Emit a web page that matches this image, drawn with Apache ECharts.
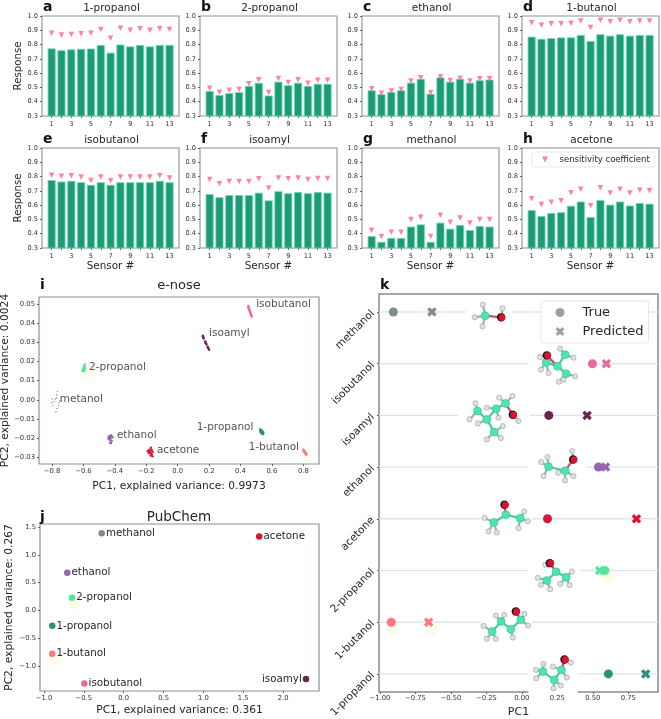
<!DOCTYPE html>
<html><head><meta charset="utf-8">
<script src="https://cdn.jsdelivr.net/npm/echarts@6/dist/echarts.min.js"></script>
<style>html,body{margin:0;padding:0;background:#fff}#c{width:661px;height:719px;filter:blur(0.35px)}</style>
</head><body><div id="c"></div>
<script>
// ---------- data ----------
const sensors = [1,2,3,4,5,6,7,8,9,10,11,12,13];
const sensorTickLabels = [1,3,5,7,9,11,13];
const panelNames = ['1-propanol','2-propanol','ethanol','1-butanol','isobutanol','isoamyl','methanol','acetone'];
const panelLetters = ['a','b','c','d','e','f','g','h'];
const resp_1propanol = [.773,.76,.766,.77,.772,.797,.743,.80,.787,.797,.787,.797,.797];
const sens_1propanol = [.88,.867,.87,.875,.88,.905,.845,.915,.90,.91,.90,.91,.905];
const resp_2propanol = [.475,.447,.46,.467,.51,.532,.443,.54,.515,.532,.51,.525,.525];
const sens_2propanol = [.495,.467,.48,.485,.525,.553,.465,.563,.535,.553,.53,.55,.55];
const resp_ethanol = [.48,.452,.468,.48,.533,.56,.455,.57,.54,.56,.533,.55,.555];
const sens_ethanol = [.49,.46,.475,.485,.545,.567,.462,.575,.548,.565,.545,.56,.56];
const resp_1butanol = [.855,.84,.845,.85,.85,.867,.825,.872,.862,.872,.862,.867,.867];
const sens_1butanol = [.953,.935,.945,.945,.95,.965,.92,.97,.96,.97,.96,.965,.965];
const resp_isobutanol = [.775,.765,.77,.76,.742,.76,.742,.76,.76,.76,.76,.77,.76];
const sens_isobutanol = [.81,.802,.805,.797,.772,.797,.77,.797,.797,.797,.797,.805,.79];
const resp_isoamyl = [.677,.655,.67,.67,.67,.687,.633,.697,.683,.692,.683,.692,.687];
const sens_isoamyl = [.78,.75,.765,.765,.765,.785,.72,.79,.785,.79,.78,.787,.787];
const resp_methanol = [.383,.343,.37,.37,.45,.465,.343,.477,.435,.46,.425,.453,.45];
const sens_methanol = [.425,.38,.41,.41,.5,.515,.38,.53,.48,.51,.475,.5,.5];
const resp_acetone = [.565,.523,.545,.55,.595,.625,.517,.635,.603,.625,.597,.615,.61];
const sens_acetone = [.645,.605,.62,.63,.687,.712,.595,.722,.685,.712,.685,.705,.70];
const responses = [resp_1propanol,resp_2propanol,resp_ethanol,resp_1butanol,resp_isobutanol,resp_isoamyl,resp_methanol,resp_acetone];
const sensitivities = [sens_1propanol,sens_2propanol,sens_ethanol,sens_1butanol,sens_isobutanol,sens_isoamyl,sens_methanol,sens_acetone];

const colors = {'1-propanol':'#2f8f7c','2-propanol':'#4fe89c','ethanol':'#9466ad','1-butanol':'#ff7683','isobutanol':'#e8689f','isoamyl':'#6a2450','methanol':'#7f8c8d','acetone':'#d9143a'};

const enose_isobutanol = [[.45,.049],[.451,.0485],[.452,.048],[.453,.0475],[.455,.0472],[.456,.047],[.458,.0465],[.461,.046],[.463,.0455],[.465,.0448],[.467,.0445],[.469,.044],[.472,.0435]];
const enose_isoamyl = [[.16,.0335],[.161,.033],[.163,.0328],[.163,.0325],[.165,.032],[.175,.0305],[.178,.03],[.18,.0295],[.183,.029],[.19,.0278],[.193,.0272],[.196,.0268],[.2,.0262]];
const enose_2propanol = [[-.605,.015],[-.6,.0155],[-.598,.016],[-.595,.0165],[-.593,.017],[-.596,.0175],[-.592,.018],[-.59,.0185],[-.593,.0165],[-.6,.0165],[-.597,.015],[-.59,.016],[-.603,.016]];
const enose_methanol = [[-.765,.0043],[-.77,.0025],[-.778,.0005],[-.787,-.001],[-.793,-.003],[-.802,-.0015],[-.798,.0005],[-.775,-.0062],[-.767,-.0045],[-.76,-.003],[-.755,-.0015],[-.75,-.0005],[-.77,.001]];
const enose_ethanol = [[-.425,-.0185],[-.43,-.0195],[-.435,-.0205],[-.44,-.0195],[-.43,-.021],[-.425,-.0225],[-.42,-.019],[-.415,-.0195],[-.44,-.0205],[-.43,-.0225],[-.42,-.0215],[-.435,-.019],[-.428,-.02]];
const enose_acetone = [[-.17,-.025],[-.18,-.026],[-.165,-.0262],[-.19,-.0268],[-.175,-.027],[-.16,-.0272],[-.185,-.0278],[-.17,-.028],[-.178,-.0272],[-.165,-.0285],[-.172,-.029],[-.16,-.0295],[-.185,-.0265]];
const enose_1propanol = [[.525,-.0155],[.53,-.016],[.535,-.0158],[.527,-.0165],[.533,-.0168],[.54,-.0165],[.53,-.0172],[.537,-.0175],[.545,-.017],[.54,-.0178],[.545,-.0178],[.535,-.0165],[.542,-.0172]];
const enose_1butanol = [[.80,-.026],[.802,-.0265],[.805,-.027],[.806,-.0268],[.808,-.0272],[.81,-.0275],[.812,-.0278],[.813,-.0275],[.815,-.028],[.817,-.0282],[.818,-.0285],[.82,-.0285],[.804,-.0262]];
const enoseClusters = [['1-propanol',enose_1propanol],['2-propanol',enose_2propanol],['ethanol',enose_ethanol],['1-butanol',enose_1butanol],['isobutanol',enose_isobutanol],['isoamyl',enose_isoamyl],['methanol',enose_methanol],['acetone',enose_acetone]];
const enoseLabels = [['isobutanol',.5,.0497],['isoamyl',.2,.0349],['2-propanol',-.564,.0171],['metanol',-.751,.0004],['ethanol',-.387,-.0183],['acetone',-.132,-.0262],['1-propanol',.121,-.0142],['1-butanol',.452,-.0246]];
const enoseGlow = [[-.58,.0145],[.825,-.0288]];

const pubchemPoints = [['methanol',-.276,1.39,'right'],['acetone',1.70,1.33,'right'],['ethanol',-.708,.68,'right'],['2-propanol',-.649,.23,'right'],['1-propanol',-.896,-.276,'right'],['1-butanol',-.896,-.777,'right'],['isobutanol',-.494,-1.31,'right'],['isoamyl',2.287,-1.23,'left']];
const pubchemGlow = [[-.62,.13],[-.87,-.87]];

const rowNames = ['methanol','isobutanol','isoamyl','ethanol','acetone','2-propanol','1-butanol','1-propanol'];
const truePC1 = [-.906,.498,.19,.54,.181,.585,-.921,.61];
const predictedPC1 = [-.634,.596,.46,.59,.808,.549,-.657,.873];
const rowGlow = [[.6,5.12],[-.905,6.12],[-.64,6.12]];

// 3-D molecule sketches: atoms in sketch units (3 units = 1 px); x counted so PC1=0 is at 575, y relative to "line"
const sketches = [
 {row:0,gap:[408,545],line:97,o:[513,113],c:[[465,108]],h:[[458,75],[517,86],[434,113],[457,140]]},
 {row:1,gap:[595,770],line:252,o:[650,227],c:[[648,248],[682,260],[705,225],[708,282]],h:[[630,232],[632,270],[655,280],[690,207],[730,234],[735,290],[686,306],[700,300]]},
 {row:2,gap:[385,600],line:408,o:[548,406],c:[[526,372],[498,388],[470,420],[442,395],[492,458]],h:[[547,350],[507,355],[470,385],[436,372],[418,420],[443,432],[565,425],[470,480],[512,476],[518,440],[505,415]]},
 {row:3,gap:[595,768],line:563,o:[729,540],c:[[705,574],[655,562]],h:[[726,515],[652,533],[633,548],[640,590],[730,590],[705,603],[684,580]]},
 {row:4,gap:[450,605],line:87,o:[523,45],c:[[527,75],[491,98],[570,85]],h:[[463,84],[475,125],[500,128],[582,65],[593,94],[565,115]]},
 {row:5,gap:[595,750],line:242,o:[659,220],c:[[678,246],[650,272],[708,262]],h:[[645,225],[623,264],[632,285],[660,298],[725,245],[718,286],[690,282]]},
 {row:6,gap:[452,605],line:397,o:[557,365],c:[[572,390],[542,418],[513,395],[486,425]],h:[[583,372],[594,407],[548,443],[522,375],[497,377],[460,408],[470,447],[497,447]]},
 {row:7,gap:[595,742],line:552,o:[703,509],c:[[694,540],[672,570],[638,545]],h:[[722,518],[668,530],[710,563],[670,595],[617,540],[618,565],[640,522],[692,587]]}
];

// ---------- layout ----------
const cols = [42,200,362,522], colW = 137;
const rowsTop = [16,148], rowH = 100;
const font = 'DejaVu Sans', ink = '#262626', spine = '#84949b';
const down = 'path://M0,0 L10,0 L5,10 Z';
const cross = 'path://M2.5,0 L5,2.5 L7.5,0 L10,2.5 L7.5,5 L10,7.5 L7.5,10 L5,7.5 L2.5,10 L0,7.5 L2.5,5 L0,2.5 Z';
const minus = s => String(s).replace('-', '\u2212');

const grid=[], xAxis=[], yAxis=[], series=[], title=[];
function addTitle(text,x,y,size,bold,align){
  title.push({text,left:x,top:y,padding:0,textAlign:align||'center',textVerticalAlign:'middle',
    textStyle:{fontFamily:font,fontSize:size,fontWeight:bold?'bold':'normal',color:bold?'#111':ink}});
}
function axisBase(o){ return Object.assign({axisLine:{show:false,onZero:false},splitLine:{show:false},
  axisTick:{length:2,lineStyle:{color:'#444',width:.8}},
  axisLabel:{fontFamily:font,fontSize:6.6,color:'#333',margin:4},
  nameTextStyle:{fontFamily:font,color:ink}},o); }
function seq(a,b,s){ const r=[]; for(let v=a; v<=b+1e-9; v+=s) r.push(+v.toFixed(4)); return r; }

panelNames.forEach((name,i)=>{
  const col=i%4,row=i<4?0:1;
  grid.push({left:cols[col],top:rowsTop[row],width:colW,height:rowH,show:true,borderColor:spine,borderWidth:1.1,backgroundColor:'#fff',outerBoundsMode:'none'});
  xAxis.push(axisBase({type:'value',gridIndex:i,min:.02,max:13.96,
    axisTick:{length:2,customValues:sensors,lineStyle:{color:'#444',width:.8}},
    axisLabel:{fontFamily:font,fontSize:6.6,color:'#333',margin:5,customValues:sensorTickLabels},
    name:row==1?'Sensor #':'',nameLocation:'middle',nameGap:12.5,nameTextStyle:{fontFamily:font,fontSize:10.4,color:ink}}));
  yAxis.push(axisBase({type:'value',gridIndex:i,min:.3,max:1,interval:.1,
    axisLabel:{fontFamily:font,fontSize:6.6,color:'#333',margin:4,formatter:v=>v.toFixed(1)},
    name:col==0?'Response':'',nameLocation:'middle',nameGap:17,nameTextStyle:{fontFamily:font,fontSize:10.2,color:ink}}));
  series.push({type:'bar',xAxisIndex:i,yAxisIndex:i,barWidth:8,silent:true,
    data:sensors.map((s,j)=>[s,responses[i][j]]),
    itemStyle:{color:'#1d9b77',borderColor:'#62dba9',borderWidth:.8}});
  series.push({type:'scatter',name:'sensitivity coefficient',xAxisIndex:i,yAxisIndex:i,symbol:down,symbolSize:5.5,silent:true,
    data:sensors.map((s,j)=>[s,sensitivities[i][j]]),itemStyle:{color:'#ff6486'}});
  addTitle(name,cols[col]+colW/2+1,rowsTop[row]-8,10.5);
  addTitle(panelLetters[i],cols[col]+1,rowsTop[row]-9,14,true,'left');
});

// panel i
grid.push({left:39,top:297,width:280,height:167,show:true,borderColor:spine,borderWidth:1.2,outerBoundsMode:'none'});
xAxis.push(axisBase({type:'value',gridIndex:8,min:-.883,max:.9,
  axisTick:{length:2,customValues:seq(-.8,.8,.2),lineStyle:{color:'#444',width:.8}},
  axisLabel:{fontFamily:font,fontSize:6.8,color:'#333',margin:4,customValues:seq(-.8,.8,.2),formatter:v=>minus(v.toFixed(1))},
  name:'PC1, explained variance: 0.9973',nameLocation:'middle',nameGap:17,nameTextStyle:{fontFamily:font,fontSize:10.7,color:ink}}));
yAxis.push(axisBase({type:'value',gridIndex:8,min:-.0335,max:.0537,
  axisTick:{length:2,customValues:seq(-.03,.05,.01),lineStyle:{color:'#444',width:.8}},
  axisLabel:{fontFamily:font,fontSize:6.8,color:'#333',margin:4,customValues:seq(-.03,.05,.01),formatter:v=>minus(v.toFixed(2))},
  name:'PC2, explained variance: 0.0024',nameLocation:'middle',nameGap:23.5,nameTextStyle:{fontFamily:font,fontSize:10.7,color:ink}}));
series.push({type:'scatter',xAxisIndex:8,yAxisIndex:8,symbolSize:13,silent:true,data:enoseGlow,itemStyle:{color:'rgba(246,249,214,.6)'},z:1});
enoseClusters.forEach(([n,pts])=>series.push({type:'scatter',xAxisIndex:8,yAxisIndex:8,silent:true,
  symbolSize:n=='methanol'?1.4:2.4,data:pts,itemStyle:{color:colors[n],opacity:1}}));
series.push({type:'scatter',xAxisIndex:8,yAxisIndex:8,symbolSize:0,silent:true,
  data:enoseLabels.map(l=>({name:l[0],value:[l[1],l[2]]})),
  label:{show:true,position:'right',distance:0,formatter:'{b}',fontFamily:font,fontSize:10.5,color:ink},labelLayout:{hideOverlap:false}});
addTitle('e-nose',179,286,13);
addTitle('i',40,285,14,true,'left');

// panel j
grid.push({left:40,top:524,width:279,height:167,show:true,borderColor:spine,borderWidth:1.2,outerBoundsMode:'none'});
xAxis.push(axisBase({type:'value',gridIndex:9,min:-1.05,max:2.45,
  axisTick:{length:2,customValues:seq(-1,2,.5),lineStyle:{color:'#444',width:.8}},
  axisLabel:{fontFamily:font,fontSize:6.8,color:'#333',margin:4,customValues:seq(-1,2,.5),formatter:v=>minus(v.toFixed(1))},
  name:'PC1, explained variance: 0.361',nameLocation:'middle',nameGap:14,nameTextStyle:{fontFamily:font,fontSize:10.7,color:ink}}));
yAxis.push(axisBase({type:'value',gridIndex:9,min:-1.447,max:1.554,
  axisTick:{length:2,customValues:seq(-1,1.5,.5),lineStyle:{color:'#444',width:.8}},
  axisLabel:{fontFamily:font,fontSize:6.8,color:'#333',margin:4,customValues:seq(-1,1.5,.5),formatter:v=>minus(v.toFixed(1))},
  name:'PC2, explained variance: 0.267',nameLocation:'middle',nameGap:25,nameTextStyle:{fontFamily:font,fontSize:10.7,color:ink}}));
series.push({type:'scatter',xAxisIndex:9,yAxisIndex:9,symbolSize:13,silent:true,data:pubchemGlow,itemStyle:{color:'rgba(246,249,214,.6)'},z:1});
series.push({type:'scatter',xAxisIndex:9,yAxisIndex:9,symbolSize:6.5,silent:true,
  data:pubchemPoints.map(p=>({name:p[0],value:[p[1],p[2]],itemStyle:{color:colors[p[0]],opacity:1},label:{position:p[3]}})),
  label:{show:true,distance:1,formatter:'{b}',fontFamily:font,fontSize:10.3,color:ink},labelLayout:{hideOverlap:false}});
addTitle('PubChem',179,517,13.5);
addTitle('j',40,517,14,true,'left');

// panel k
const kTicks=seq(-1,.75,.25);
grid.push({left:379,top:294,width:279,height:398,show:true,borderColor:'#7f8f93',borderWidth:1.5,outerBoundsMode:'none'});
xAxis.push(axisBase({type:'value',gridIndex:10,min:-1.007,max:.96,
  axisTick:{length:2,customValues:kTicks,lineStyle:{color:'#444',width:.8}},
  axisLabel:{fontFamily:font,fontSize:6.8,color:'#333',margin:3,customValues:kTicks,formatter:v=>minus(v.toFixed(2))},
  name:'PC1',nameLocation:'middle',nameGap:15,nameTextStyle:{fontFamily:font,fontSize:11,color:ink}}));
const rowIdx=rowNames.map((_,i)=>i);
yAxis.push(axisBase({type:'value',gridIndex:10,inverse:true,min:-.348,max:7.35,
  axisTick:{length:2,customValues:rowIdx,lineStyle:{color:'#444',width:.8}},
  axisLabel:{fontFamily:font,fontSize:10.6,color:ink,margin:6,rotate:45,customValues:rowIdx,formatter:v=>rowNames[v]}}));
series.push({type:'custom',xAxisIndex:10,yAxisIndex:10,silent:true,z:1,clip:false,data:rowIdx.map(r=>[0,r]),
  renderItem:(p,api)=>{const y=api.coord([0,api.value(1)])[1];const g=p.coordSys;
    return {type:'line',shape:{x1:g.x,y1:y,x2:g.x+g.width,y2:y},style:{stroke:'#dce6f0',lineWidth:1.4}};}});
series.push({type:'scatter',xAxisIndex:10,yAxisIndex:10,symbolSize:14,silent:true,z:1.5,data:rowGlow,itemStyle:{color:'rgba(246,249,214,.65)'}});
series.push({type:'custom',xAxisIndex:10,yAxisIndex:10,silent:true,z:2,clip:false,data:sketches.map(s=>[0,s.row]),
  renderItem:(p,api)=>{
    const s=sketches[p.dataIndex], o=api.coord([0,s.row]);
    const X=x=>o[0]+(x-575)/3;
    const Y=y=>o[1]+(y-s.line)/3;
    const lastRow=s.row==rowNames.length-1;
    const kids=[{type:'rect',shape:{x:X(s.gap[0]),y:o[1]-5,width:(s.gap[1]-s.gap[0])/3,height:lastRow?25:10},style:{fill:'#fff'}}];
    const heavy=s.c.concat([s.o]);
    const bond=(a,b,col)=>kids.push({type:'line',shape:{x1:X(a[0]),y1:Y(a[1]),x2:X(b[0]),y2:Y(b[1])},style:{stroke:col,lineWidth:2.2}});
    s.h.forEach(h=>{let b=heavy[0],d=1e9;heavy.forEach(q=>{const e=Math.hypot(q[0]-h[0],q[1]-h[1]);if(e<d){d=e;b=q;}});bond(h,b,'#8fb8ac');});
    heavy.forEach((a,i)=>heavy.forEach((b,j)=>{if(j>i&&Math.hypot(a[0]-b[0],a[1]-b[1])<52)bond(a,b,j==heavy.length-1?'#c8506a':'#45c9a0');}));
    s.h.forEach(h=>kids.push({type:'circle',shape:{cx:X(h[0]),cy:Y(h[1]),r:2.6},style:{fill:'#dfe0e0',stroke:'#8a8f8f',lineWidth:.5}}));
    s.c.forEach(c=>kids.push({type:'circle',shape:{cx:X(c[0]),cy:Y(c[1]),r:4},style:{fill:'#4fe3b2',stroke:'#2fb98e',lineWidth:.5}}));
    kids.push({type:'circle',shape:{cx:X(s.o[0]),cy:Y(s.o[1]),r:4.2},style:{fill:'#111'}});
    kids.push({type:'circle',shape:{cx:X(s.o[0])+.7,cy:Y(s.o[1])+.2,r:3.4},style:{fill:'#e2102f'}});
    return {type:'group',children:kids};
  }});
series.push({type:'scatter',name:'True',xAxisIndex:10,yAxisIndex:10,symbol:'circle',symbolSize:9,silent:true,z:3,clip:false,
  itemStyle:{color:'#7f8c8d'},data:rowNames.map((n,i)=>({value:[truePC1[i],i],itemStyle:{color:colors[n],opacity:1}}))});
series.push({type:'scatter',name:'Predicted',xAxisIndex:10,yAxisIndex:10,symbol:cross,symbolSize:9.5,silent:true,z:3,clip:false,
  itemStyle:{color:'#7f8c8d'},data:rowNames.map((n,i)=>({value:[predictedPC1[i],i],itemStyle:{color:colors[n],opacity:1}}))});
addTitle('k',380,285,14,true,'left');

const option={animation:false,backgroundColor:'#fff',textStyle:{fontFamily:font},title,grid,xAxis,yAxis,series,
  legend:[
   {data:[{name:'sensitivity coefficient',icon:down}],left:532,top:152,padding:[3,5,3,10],itemWidth:19,itemHeight:6,selectedMode:false,
    backgroundColor:'rgba(255,255,255,.85)',borderColor:'#e3e7ea',borderWidth:1,borderRadius:2,
    textStyle:{fontFamily:font,fontSize:8.5,color:ink}},
   {data:[{name:'True',icon:'circle'},{name:'Predicted',icon:cross}],left:541,top:301,orient:'vertical',padding:[5,5,5,14.5],itemWidth:35,itemHeight:9,itemGap:6,selectedMode:false,
    backgroundColor:'rgba(255,255,255,.9)',borderColor:'#e3e7ea',borderWidth:1,borderRadius:2,
    textStyle:{fontFamily:font,fontSize:13,color:ink}}
  ]};
const chart=echarts.init(document.getElementById('c'),null,{renderer:'canvas'});
chart.setOption(option);
</script></body></html>
